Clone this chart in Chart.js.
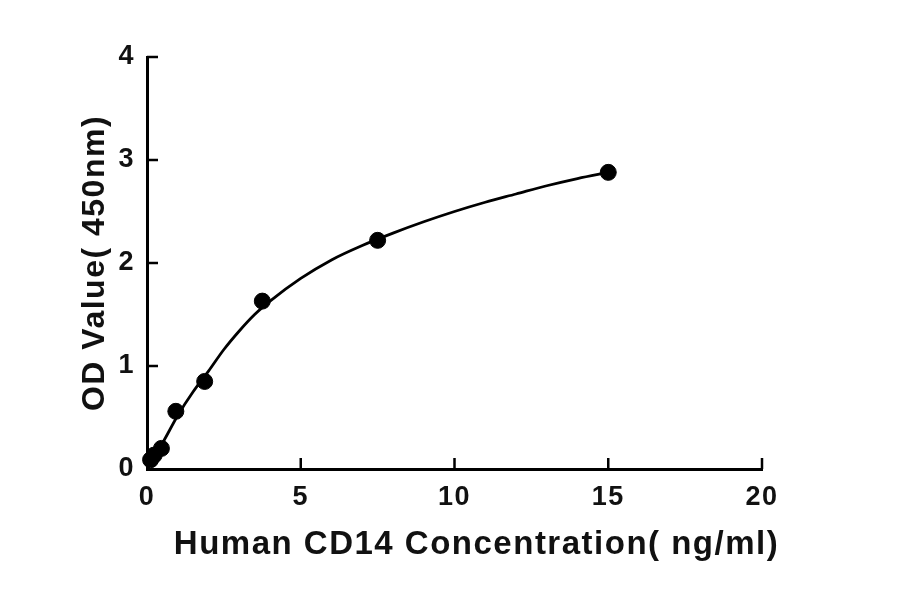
<!DOCTYPE html>
<html>
<head>
<meta charset="utf-8">
<script src="https://cdn.jsdelivr.net/npm/chart.js@4.4.1/dist/chart.umd.min.js"></script>
<style>
    html, body { margin: 0; padding: 0; background: #fff; }
    #wrap { width: 900px; height: 594px; }
</style>
</head>
<body>
<div id="wrap"><canvas id="graficoCurva"></canvas></div>
<script>
// pontos medidos (concentração ng/ml x OD 450nm)
const concentracoes = [0.117, 0.234, 0.469, 0.938, 1.875, 3.75, 7.5, 15];
const valoresOD = [0.09, 0.135, 0.20, 0.56, 0.85, 1.63, 2.22, 2.88];

// curva ajustada
const curvaX = [0, 0.25, 0.5, 1, 1.5, 2, 2.5, 3, 3.5, 4, 5, 6, 7, 8, 9, 10, 11, 12, 13, 14, 15];
const curvaY = [0.05, 0.13, 0.25, 0.52, 0.75, 0.95, 1.16, 1.34, 1.50, 1.63, 1.85, 2.03, 2.17, 2.29, 2.40, 2.50, 2.59, 2.67, 2.75, 2.82, 2.88];

const ticksX = [0, 5, 10, 15, 20];
const ticksY = [0, 1, 2, 3, 4];

const fonte = "'Liberation Sans', Arial, sans-serif";

// marcas de escala para dentro da área do gráfico
const ticksInternos = {
    id: 'ticksInternos',
    beforeDraw(chart) {
        // fonte do original é um pouco mais larga
        chart.ctx.letterSpacing = '1.5px';
    },
    afterDraw(chart) {
        const { ctx, scales: { x, y } } = chart;
        const tam = 11;
        ctx.save();
        ctx.strokeStyle = '#000';
        ctx.lineWidth = 2.5;
        ctx.beginPath();
        ticksX.slice(1).forEach(v => {
            const px = x.getPixelForValue(v);
            ctx.moveTo(px, y.bottom);
            ctx.lineTo(px, y.bottom - tam);
        });
        ticksY.slice(1).forEach(v => {
            const py = y.getPixelForValue(v);
            ctx.moveTo(x.left, py);
            ctx.lineTo(x.left + tam, py);
        });
        ctx.stroke();
        ctx.restore();
        ctx.letterSpacing = '0px';
    }
};

// no original o título do eixo x fica um pouco à direita do centro
function deslocaTitulo(scale) {
    if (scale._tituloDeslocado) return;
    const original = scale.drawTitle;
    scale.drawTitle = function () {
        this.ctx.save();
        this.ctx.translate(22, 0);
        original.call(this);
        this.ctx.restore();
    };
    scale._tituloDeslocado = true;
}

const ctx = document.getElementById('graficoCurva').getContext('2d');

new Chart(ctx, {
    type: 'scatter',
    data: {
        datasets: [
            {
                label: 'Pontos',
                data: concentracoes.map((c, i) => ({ x: c, y: valoresOD[i] })),
                backgroundColor: '#000',
                borderColor: '#000',
                pointRadius: 8,
                pointHoverRadius: 8,
                showLine: false,
                clip: false
            },
            {
                label: 'Curva',
                data: curvaX.map((c, i) => ({ x: c, y: curvaY[i] })),
                borderColor: '#000',
                borderWidth: 2.8,
                pointRadius: 0,
                showLine: true,
                cubicInterpolationMode: 'monotone',
                clip: false
            }
        ]
    },
    options: {
        responsive: true,
        maintainAspectRatio: false,
        animation: false,
        layout: { padding: { left: 0, top: 57, right: 138, bottom: 0 } },
        plugins: {
            legend: { display: false },
            tooltip: { enabled: false }
        },
        scales: {
            x: {
                type: 'linear',
                min: 0,
                max: 20,
                afterBuildTicks: s => { s.ticks = ticksX.map(v => ({ value: v })); },
                afterFit: s => { s.height = 125; deslocaTitulo(s); },
                grid: { display: false, drawTicks: false },
                border: { display: true, color: '#000', width: 3 },
                ticks: {
                    color: '#111',
                    padding: 12,
                    font: { family: fonte, size: 27, weight: 'bold' }
                },
                title: {
                    display: true,
                    text: 'Human CD14 Concentration( ng/ml)',
                    color: '#111',
                    padding: { top: 0, bottom: 29 },
                    font: { family: fonte, size: 33, weight: 'bold' }
                }
            },
            y: {
                type: 'linear',
                min: 0,
                max: 4,
                afterBuildTicks: s => { s.ticks = ticksY.map(v => ({ value: v })); },
                afterFit: s => { s.width = 147; },
                grid: { display: false, drawTicks: false },
                border: { display: true, color: '#000', width: 3 },
                ticks: {
                    color: '#111',
                    padding: 12,
                    font: { family: fonte, size: 27, weight: 'bold' }
                },
                title: {
                    display: true,
                    text: 'OD Value( 450nm)',
                    color: '#111',
                    padding: { top: 76, bottom: 0 },
                    font: { family: fonte, size: 32, weight: 'bold' }
                }
            }
        }
    },
    plugins: [ticksInternos]
});
</script>
</body>
</html>
